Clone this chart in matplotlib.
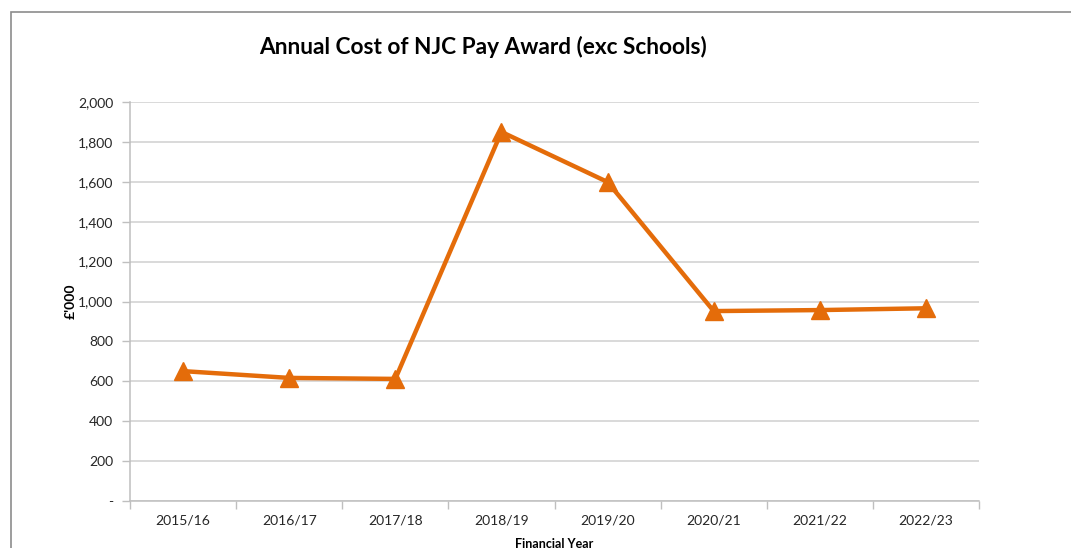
import matplotlib
matplotlib.use("Agg")
import matplotlib.pyplot as plt
from matplotlib.patches import Rectangle
from matplotlib.ticker import FuncFormatter, FixedLocator

# data
years = ["2015/16", "2016/17", "2017/18", "2018/19", "2019/20",
         "2020/21", "2021/22", "2022/23"]
cost = [651, 617, 612, 1850, 1599, 952, 957, 966]

ORANGE = "#E46C0A"
GRID = "#D0D0D0"
TEXT = "#262626"

plt.rcParams["font.family"] = ["Lato", "DejaVu Sans"]

fig = plt.figure(figsize=(10.71, 5.48), dpi=100)
fig.patch.set_facecolor("white")

# outer chart frame (cropped on right/bottom in the original)
fig.patches.append(Rectangle((11 / 1071, -0.1), 1.2, 1 - 12 / 548 + 0.1,
                             transform=fig.transFigure, fill=False,
                             edgecolor="#8c8c8c", linewidth=1.2))

ax = fig.add_axes([130 / 1071, 47 / 548, 849 / 1071, 399 / 548])

x = list(range(len(years)))
ax.plot(x, cost, color=ORANGE, linewidth=3.2, marker="^",
        markersize=13, markerfacecolor=ORANGE, markeredgecolor=ORANGE,
        solid_joinstyle="round", zorder=3)

ax.set_xlim(-0.5, len(years) - 0.5)
ax.set_ylim(0, 2000)
ax.set_yticks(range(0, 2001, 200))
ax.yaxis.set_major_formatter(
    FuncFormatter(lambda v, p: "-" if v == 0 else f"{int(v):,}"))

ax.set_xticks(x)
ax.set_xticklabels(years)
ax.xaxis.set_minor_locator(FixedLocator([i - 0.5 for i in range(len(years) + 1)]))
ax.tick_params(axis="x", which="major", length=0, pad=10, labelsize=10,
               labelcolor=TEXT)
ax.tick_params(axis="x", which="minor", length=6, color="#bfbfbf", width=1)
ax.tick_params(axis="y", length=6, color="#bfbfbf", width=1, pad=6,
               labelsize=10, labelcolor=TEXT)

ax.grid(axis="y", color=GRID, linewidth=1.1)
ax.set_axisbelow(True)
for side in ["top", "right"]:
    ax.spines[side].set_visible(False)
for side in ["left", "bottom"]:
    ax.spines[side].set_color("#bfbfbf")
    ax.spines[side].set_linewidth(1.1)

ax.set_ylabel("£'000", fontsize=10, fontweight="bold", color="black")
ax.yaxis.set_label_coords(-53 / 849, 0.5)
ax.set_xlabel("Financial Year", fontsize=9, fontweight="bold", color="black",
              labelpad=8)

fig.text(483 / 1071, 1 - 47 / 548, "Annual Cost of NJC Pay Award (exc Schools)",
         ha="center", va="center", fontsize=16.3, fontweight="bold",
         color="black")

fig.savefig("out.png", dpi=100, facecolor="white")
